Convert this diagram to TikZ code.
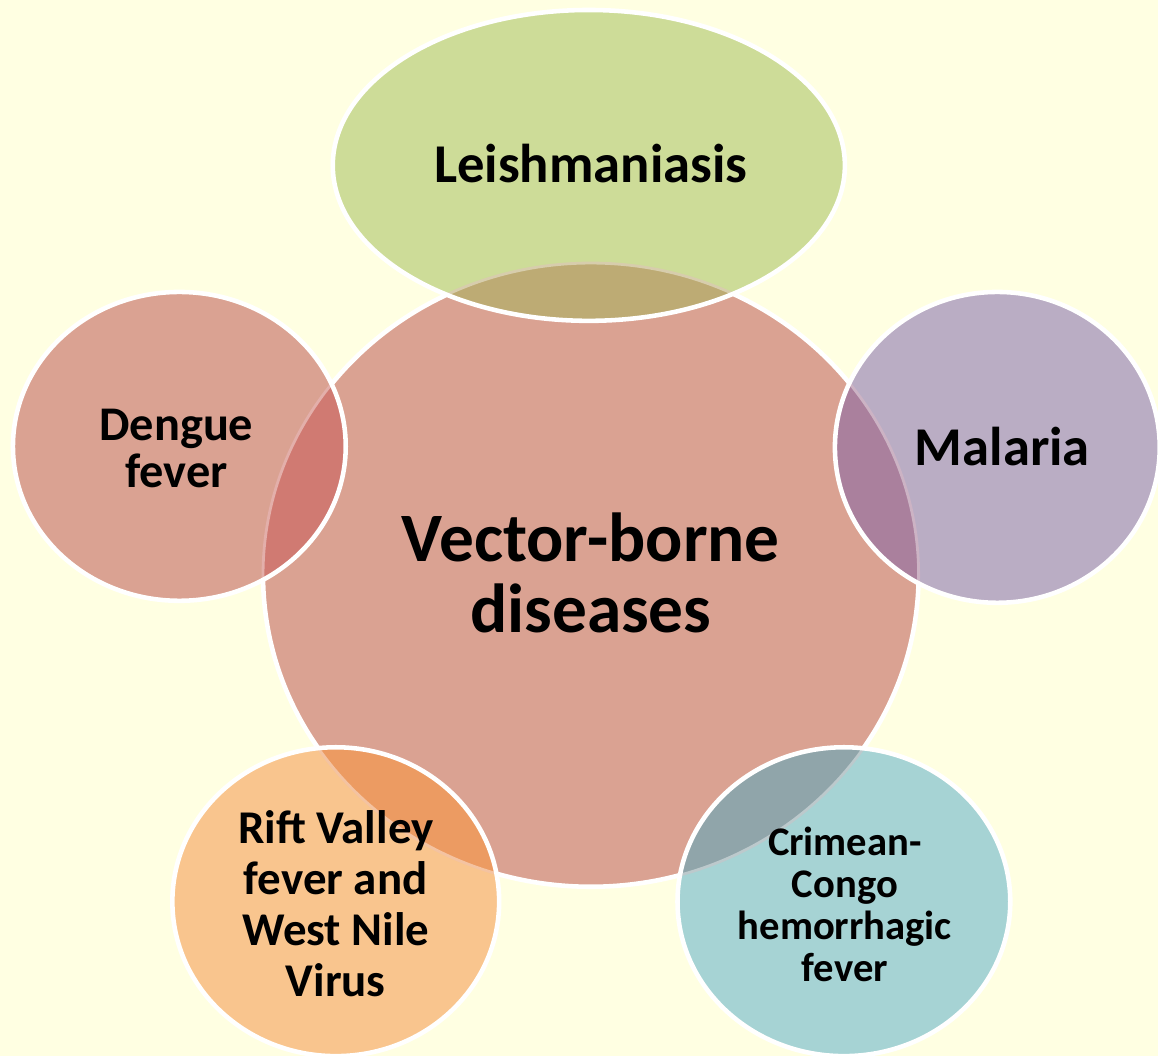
\documentclass[tikz,border=0pt]{standalone}
\usepackage{fontspec}
\setmainfont{Carlito}

\definecolor{bgyellow}{RGB}{255,255,226}
\definecolor{vbdpink}{RGB}{218,162,146}
\definecolor{leishgreen}{RGB}{205,220,152}
\definecolor{leishdark}{RGB}{189,171,116}
\definecolor{denguepink}{RGB}{218,162,146}
\definecolor{denguedark}{RGB}{208,122,114}
\definecolor{malarialilac}{RGB}{186,173,196}
\definecolor{malariadark}{RGB}{170,128,157}
\definecolor{riftorange}{RGB}{249,197,142}
\definecolor{riftdark}{RGB}{236,155,98}
\definecolor{cchfteal}{RGB}{166,211,212}
\definecolor{cchfdark}{RGB}{144,165,170}

\begin{document}
\begin{tikzpicture}[x=0.01cm, y=-0.01cm,
    disc/.style={draw=white, line width=1.3pt},
    rim/.style={line width=0.8pt},
    lbl/.style={align=center, text=black},
]
\fill[bgyellow] (0,0) rectangle (1162,1060);

% centre
\path[disc, fill=vbdpink] (593,577) ellipse (329 and 313);

% Leishmaniasis
\fill[leishgreen] (591,166) ellipse (257 and 156);
\begin{scope}
  \clip (591,166) ellipse (257 and 156);
  \fill[leishdark] (593,577) ellipse (329 and 313);
  \draw[rim, leishdark!60!white] (593,577) ellipse (329 and 313);
\end{scope}
\draw[disc] (591,166) ellipse (257 and 156);

% Dengue
\fill[denguepink] (180,448) ellipse (167 and 155);
\begin{scope}
  \clip (180,448) ellipse (167 and 155);
  \fill[denguedark] (593,577) ellipse (329 and 313);
  \draw[rim, denguedark!60!white] (593,577) ellipse (329 and 313);
\end{scope}
\draw[disc] (180,448) ellipse (167 and 155);

% Malaria
\fill[malarialilac] (1001,449) ellipse (163 and 156);
\begin{scope}
  \clip (1001,449) ellipse (163 and 156);
  \fill[malariadark] (593,577) ellipse (329 and 313);
  \draw[rim, malariadark!60!white] (593,577) ellipse (329 and 313);
\end{scope}
\draw[disc] (1001,449) ellipse (163 and 156);

% Rift Valley
\fill[riftorange] (337,905) ellipse (164 and 155);
\begin{scope}
  \clip (337,905) ellipse (164 and 155);
  \fill[riftdark] (593,577) ellipse (329 and 313);
  \draw[rim, riftdark!60!white] (593,577) ellipse (329 and 313);
\end{scope}
\draw[disc] (337,905) ellipse (164 and 155);

% Crimean-Congo
\fill[cchfteal] (847,905) ellipse (167 and 155);
\begin{scope}
  \clip (847,905) ellipse (167 and 155);
  \fill[cchfdark] (593,577) ellipse (329 and 313);
  \draw[rim, cchfdark!60!white] (593,577) ellipse (329 and 313);
\end{scope}
\draw[disc] (847,905) ellipse (167 and 155);

% labels
\node[lbl, font=\bfseries\fontsize{19.8pt}{20pt}\selectfont] (vbd) at (593,575) {Vector-borne\\diseases};
\node[lbl, font=\bfseries\fontsize{15.6pt}{16pt}\selectfont] (leish) at (593,164) {Leishmaniasis};
\node[lbl, font=\bfseries\fontsize{13.8pt}{13.6pt}\selectfont] (dengue) at (177,450) {Dengue\\fever};
\node[lbl, font=\bfseries\fontsize{15.6pt}{16pt}\selectfont] (malaria) at (1006,448) {Malaria};
\node[lbl, font=\bfseries\fontsize{13.4pt}{14.5pt}\selectfont] (rift) at (337,907) {Rift Valley\\fever and\\West Nile\\Virus};
\node[lbl, font=\bfseries\fontsize{11.6pt}{12pt}\selectfont] (cchf) at (848,908) {Crimean-\\Congo\\hemorrhagic\\fever};
\end{tikzpicture}
\end{document}
